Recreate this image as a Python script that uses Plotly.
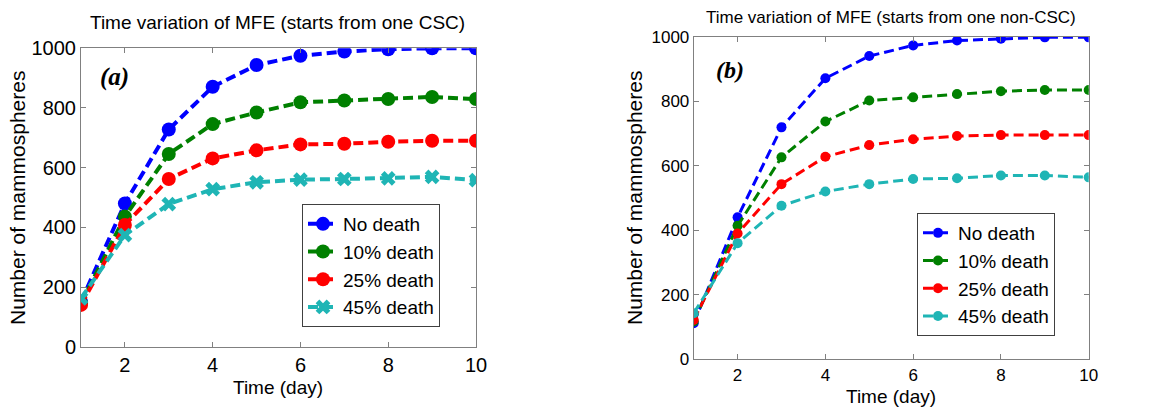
import plotly.graph_objects as go

days = [1, 2, 3, 4, 5, 6, 7, 8, 9, 10]
series_names = ["No death", "10% death", "25% death", "45% death"]

# Panel (a): starts from one CSC
a_no_death = [151, 480, 728, 871, 944, 975, 989, 997, 1000, 1000]
a_10_death = [145, 436, 646, 746, 785, 819, 825, 830, 837, 830]
a_25_death = [140, 408, 562, 631, 658, 678, 680, 687, 690, 690]
a_45_death = [162, 374, 478, 528, 551, 560, 562, 564, 569, 558]

# Panel (b): starts from one non-CSC
b_no_death = [112, 440, 719, 871, 940, 973, 988, 994, 998, 998]
b_10_death = [117, 414, 626, 737, 802, 812, 822, 831, 835, 835]
b_25_death = [122, 390, 543, 628, 664, 682, 692, 695, 695, 695]
b_45_death = [143, 360, 476, 520, 543, 559, 561, 570, 570, 564]

x_ticks = [2, 4, 6, 8, 10]
y_ticks = [0, 200, 400, 600, 800, 1000]

colors = ["#0000FF", "#008000", "#FF0000", "#1FB5B5"]
a_symbols = ["circle", "circle", "circle", "x"]

W, H = 1157, 409
FONT = "Liberation Sans, Arial, sans-serif"
SERIF = "Liberation Serif, Times New Roman, serif"

fig = go.Figure()

a_data = [a_no_death, a_10_death, a_25_death, a_45_death]
b_data = [b_no_death, b_10_death, b_25_death, b_45_death]

for name, ys, c, s in zip(series_names, a_data, colors, a_symbols):
    fig.add_trace(go.Scatter(
        x=days, y=ys, name=name, mode="lines+markers",
        line=dict(color=c, width=4, dash="10px,5px"),
        marker=dict(color=c, size=14 if s == "circle" else 13, symbol=s),
        xaxis="x", yaxis="y", legend="legend"))

for name, ys, c in zip(series_names, b_data, colors):
    fig.add_trace(go.Scatter(
        x=days, y=ys, name=name, mode="lines+markers",
        line=dict(color=c, width=3, dash="10px,5px"),
        marker=dict(color=c, size=10, symbol="circle"),
        xaxis="x2", yaxis="y2", legend="legend2"))

def px_x(p):
    return p / W

def px_y(p):
    return 1 - p / H

def axis_style(size):
    return dict(
        showline=True, linecolor="#808080", linewidth=1, mirror="ticks",
        ticks="inside", ticklen=5, tickcolor="#808080", tickwidth=1,
        tickfont=dict(family=FONT, size=size, color="black"),
        showgrid=False, zeroline=False, automargin=False, fixedrange=True,
    )

legend_common = dict(
    xanchor="left", yanchor="top", bgcolor="white", bordercolor="#404040",
    borderwidth=1, font=dict(family=FONT, size=19, color="black"),
    tracegroupgap=0,
)

fig.update_layout(
    template="none",
    width=W, height=H,
    margin=dict(l=0, r=0, t=0, b=0, autoexpand=False),
    paper_bgcolor="white", plot_bgcolor="white",
    font=dict(family=FONT, color="black"),
    xaxis=dict(domain=[px_x(81), px_x(476)], range=[1, 10], tickvals=x_ticks,
               anchor="y", **axis_style(20)),
    yaxis=dict(domain=[px_y(346.7), px_y(48.3)], range=[0, 1000], tickvals=y_ticks,
               anchor="x", **axis_style(20)),
    xaxis2=dict(domain=[px_x(693.7), px_x(1088.7)], range=[1, 10], tickvals=x_ticks,
                anchor="y2", **axis_style(17)),
    yaxis2=dict(domain=[px_y(359.3), px_y(36.7)], range=[0, 1000], tickvals=y_ticks,
                anchor="x2", **axis_style(17)),
    legend=dict(x=px_x(302), y=px_y(204), **legend_common),
    legend2=dict(x=px_x(917), y=px_y(213), **legend_common),
)

annotations = [
    dict(text="Time variation of MFE (starts from one CSC)", x=px_x(277), y=px_y(23),
         font=dict(size=19)),
    dict(text="Time variation of MFE (starts from one non-CSC)", x=px_x(891), y=px_y(17),
         font=dict(size=17)),
    dict(text="Time (day)", x=px_x(278), y=px_y(387), font=dict(size=19)),
    dict(text="Time (day)", x=px_x(891), y=px_y(396), font=dict(size=19)),
    dict(text="Number of mammospheres", x=px_x(17), y=px_y(198), textangle=-90,
         font=dict(size=21)),
    dict(text="Number of mammospheres", x=px_x(634), y=px_y(198), textangle=-90,
         font=dict(size=21)),
    dict(text="<b><i>(a)</i></b>", x=px_x(114), y=px_y(77),
         font=dict(family=SERIF, size=25)),
    dict(text="<b><i>(b)</i></b>", x=px_x(730), y=px_y(70),
         font=dict(family=SERIF, size=24)),
]
for a in annotations:
    a.update(xref="paper", yref="paper", showarrow=False, xanchor="center", yanchor="middle")
    a["font"].setdefault("family", FONT)
    a["font"].setdefault("color", "black")
fig.update_layout(annotations=annotations)

fig.write_html("out.html")
